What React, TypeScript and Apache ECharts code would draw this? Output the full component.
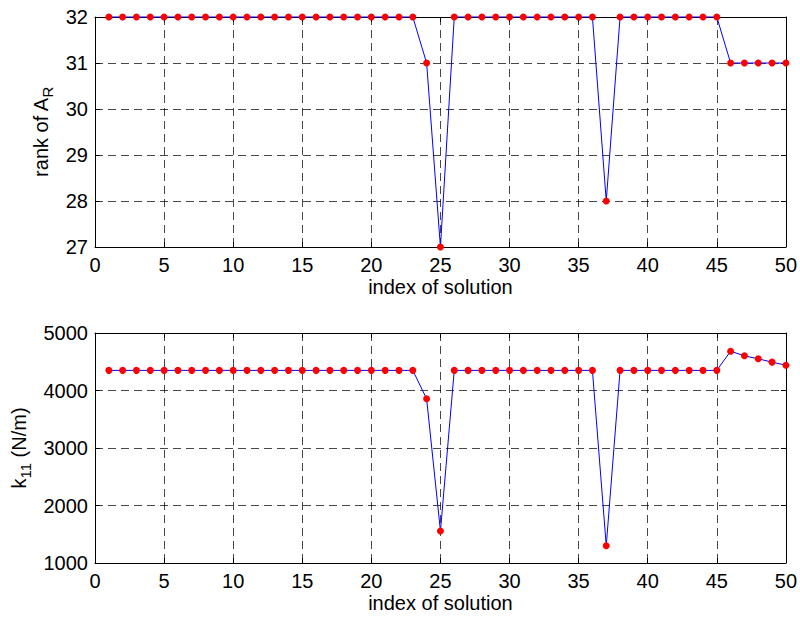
import React, { useEffect, useRef } from "react";
import * as echarts from "echarts";

const indices: number[] = Array.from({ length: 50 }, (_, i) => i + 1);
const rankValues: number[] = [
  32, 32, 32, 32, 32, 32, 32, 32, 32, 32,
  32, 32, 32, 32, 32, 32, 32, 32, 32, 32,
  32, 32, 32, 31, 27, 32, 32, 32, 32, 32,
  32, 32, 32, 32, 32, 32, 28, 32, 32, 32,
  32, 32, 32, 32, 32, 31, 31, 31, 31, 31,
];
const k11Values: number[] = [
  4350, 4350, 4350, 4350, 4350, 4350, 4350, 4350, 4350, 4350,
  4350, 4350, 4350, 4350, 4350, 4350, 4350, 4350, 4350, 4350,
  4350, 4350, 4350, 3855, 1556, 4350, 4350, 4350, 4350, 4350,
  4350, 4350, 4350, 4350, 4350, 4350, 1301, 4350, 4350, 4350,
  4350, 4350, 4350, 4350, 4350, 4683, 4603, 4551, 4493, 4440,
];
const xLabel = "index of solution";

const FONT = "Liberation Sans, Arial, sans-serif";
const FS = 20;

export default function App() {
  const ref = useRef<HTMLDivElement>(null);
  useEffect(() => {
    if (!ref.current) return;
    const chart = echarts.init(ref.current, null, { renderer: "svg" });
    const grids = [
      { left: 95, top: 17, width: 692, height: 230 },
      { left: 95, top: 333, width: 692, height: 230 },
    ];
    const splitLine = {
      show: true,
      lineStyle: { color: "#000", type: [8, 5] as any, width: 1, opacity: 0.72 },
    };
    const axisLine = { show: true, onZero: false, lineStyle: { color: "#000", width: 1 } };
    const axisLabel = { color: "#000", fontSize: FS, fontFamily: FONT };
    const tick = { show: true, inside: true, length: 5, lineStyle: { color: "#000" } };
    const mkX = (gi: number) => [
      {
        type: "value",
        gridIndex: gi,
        min: 0,
        max: 50,
        interval: 5,
        position: "bottom",
        axisLine,
        axisTick: tick,
        axisLabel: { ...axisLabel, margin: 8 },
        splitLine,
        name: xLabel,
        nameLocation: "middle",
        nameGap: 30,
        nameTextStyle: { color: "#000", fontSize: FS, fontFamily: FONT },
      },
      {
        type: "value",
        gridIndex: gi,
        min: 0,
        max: 50,
        interval: 5,
        position: "top",
        axisLine,
        axisTick: tick,
        axisLabel: { show: false },
        splitLine: { show: false },
      },
    ];
    const mkY = (gi: number, min: number, max: number, interval: number, name: string, gap: number, rich: any) => [
      {
        type: "value",
        gridIndex: gi,
        min,
        max,
        interval,
        position: "left",
        axisLine,
        axisTick: tick,
        axisLabel: { ...axisLabel, margin: 7, formatter: (v: number) => String(v) },
        splitLine,
        name,
        nameLocation: "middle",
        nameGap: gap,
        nameTextStyle: { color: "#000", fontSize: FS, fontFamily: FONT, rich },
      },
      {
        type: "value",
        gridIndex: gi,
        min,
        max,
        interval,
        position: "right",
        axisLine,
        axisTick: tick,
        axisLabel: { show: false },
        splitLine: { show: false },
      },
    ];
    const richCommon = {
      n: { fontSize: FS, fontFamily: FONT, color: "#000", lineHeight: 28, verticalAlign: "middle" },
      s: { fontSize: 15, fontFamily: FONT, color: "#000", lineHeight: 28, verticalAlign: "bottom" },
    };
    const xAxes = [...mkX(0), ...mkX(1)];
    const yAxes = [
      ...mkY(0, 27, 32, 1, "{n|rank of A}{s|R}", 33, richCommon),
      ...mkY(1, 1000, 5000, 1000, "{n|k}{s|11}{n| (N/m)}", 56, richCommon),
    ];
    const mkSeries = (xi: number, yi: number, vals: number[]) => ({
      type: "line",
      xAxisIndex: xi,
      yAxisIndex: yi,
      data: indices.map((x, i) => [x, vals[i]]),
      symbol: "circle",
      symbolSize: 7,
      showAllSymbol: true,
      lineStyle: { color: "#0000ff", width: 1 },
      itemStyle: { color: "#ff0000" },
      clip: false,
    });
    chart.setOption({
      animation: false,
      backgroundColor: "#fff",
      grid: grids,
      xAxis: xAxes,
      yAxis: yAxes,
      series: [mkSeries(0, 0, rankValues), mkSeries(2, 2, k11Values)],
    } as any);
    return () => chart.dispose();
  }, []);
  return (
    <div
      ref={ref}
      style={{ position: "fixed", left: 0, top: 0, width: 800, height: 623 }}
    />
  );
}
